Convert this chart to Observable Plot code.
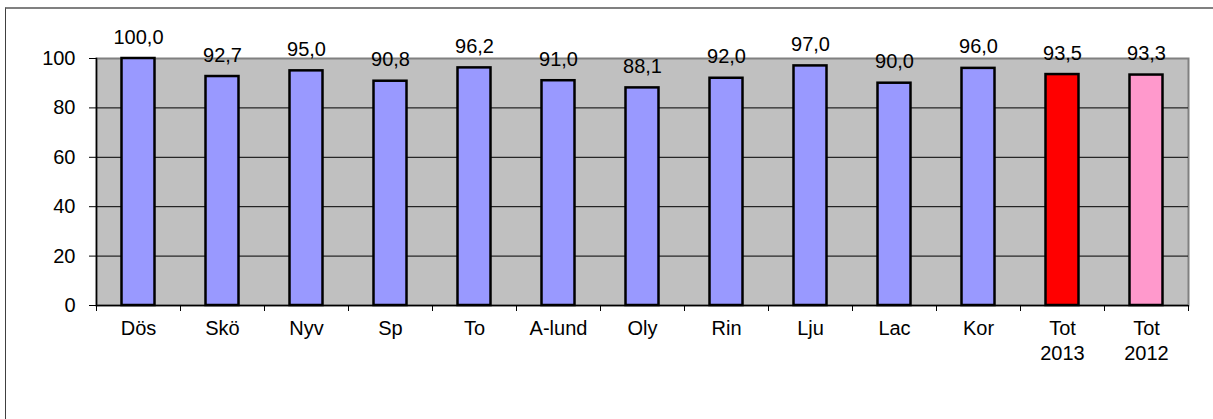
<!DOCTYPE html>
<html>
<head>
<meta charset="utf-8">
<script src="https://cdn.jsdelivr.net/npm/d3@7"></script>
<script src="https://cdn.jsdelivr.net/npm/@observablehq/plot@0.6"></script>
<style>
  html, body { margin: 0; padding: 0; background: #fff; }
  #wrap { position: relative; width: 1213px; height: 419px; overflow: hidden; }
  #outer { position: absolute; left: 5px; top: 7px; width: 2000px; height: 1000px;
           border-left: 1px solid #404040; border-top: 2px solid #808080; }
  #chart { position: absolute; left: 0; top: 0; }
</style>
</head>
<body>
<div id="wrap"><div id="outer"></div><div id="chart"></div></div>
<script>
const categories = ["Dös","Skö","Nyv","Sp","To","A-lund","Oly","Rin","Lju","Lac","Kor","Tot\n2013","Tot\n2012"];
const values = [100.0, 92.7, 95.0, 90.8, 96.2, 91.0, 88.1, 92.0, 97.0, 90.0, 96.0, 93.5, 93.3];
const barColors = ["#9999ff","#9999ff","#9999ff","#9999ff","#9999ff","#9999ff","#9999ff","#9999ff","#9999ff","#9999ff","#9999ff","#ff0000","#ff99cc"];
const yTicks = [0, 20, 40, 60, 80, 100];
const gridTicks = [20, 40, 60, 80];

const data = categories.map((c, i) => ({cat: c, value: values[i], color: barColors[i]}));
const fmt = v => d3.format(".1f")(v).replace(".", ",");
const half = (1213 - 96 - 25) / categories.length / 2;

const chart = Plot.plot({
  width: 1213,
  height: 419,
  marginLeft: 96,
  marginRight: 25,
  marginTop: 58,
  marginBottom: 114,
  style: {fontFamily: "'Liberation Sans', Arial, sans-serif", fontSize: "20px", background: "transparent", color: "#000"},
  x: {domain: categories, padding: 0, axis: null, label: null},
  y: {domain: [0, 100], axis: null, label: null},
  color: {type: "identity"},
  marks: [
    Plot.frame({fill: "#c0c0c0", stroke: "#808080", strokeWidth: 2}),
    Plot.gridY(gridTicks, {stroke: "#000", strokeOpacity: 1, strokeWidth: 1}),
    Plot.barY(data, {x: "cat", y: "value", fill: "color", stroke: "#000", strokeWidth: 2.5, insetLeft: 25.5, insetRight: 25.5}),
    Plot.ruleY([0], {stroke: "#000", strokeWidth: 1.5}),
    Plot.frame({anchor: "left", stroke: "#000", strokeWidth: 1.5}),
    Plot.axisY({ticks: yTicks, tickSize: 7, tickPadding: 14, fontSize: 20, tickFormat: d => String(d), stroke: "#000", label: null}),
    Plot.axisX({tickSize: 0, tickPadding: 12, fontSize: 20, lineHeight: 1.25, label: null}),
    Plot.axisX({tickFormat: null, tickSize: 6, dx: -half, stroke: "#000", label: null}),
    Plot.axisX({ticks: [categories[categories.length - 1]], tickFormat: null, tickSize: 6, dx: half, stroke: "#000", label: null}),
    Plot.text(data, {x: "cat", y: "value", text: d => fmt(d.value), lineAnchor: "bottom", dy: -15, fontSize: 20, fill: "#000"})
  ]
});
document.getElementById("chart").appendChild(chart);
</script>
</body>
</html>
